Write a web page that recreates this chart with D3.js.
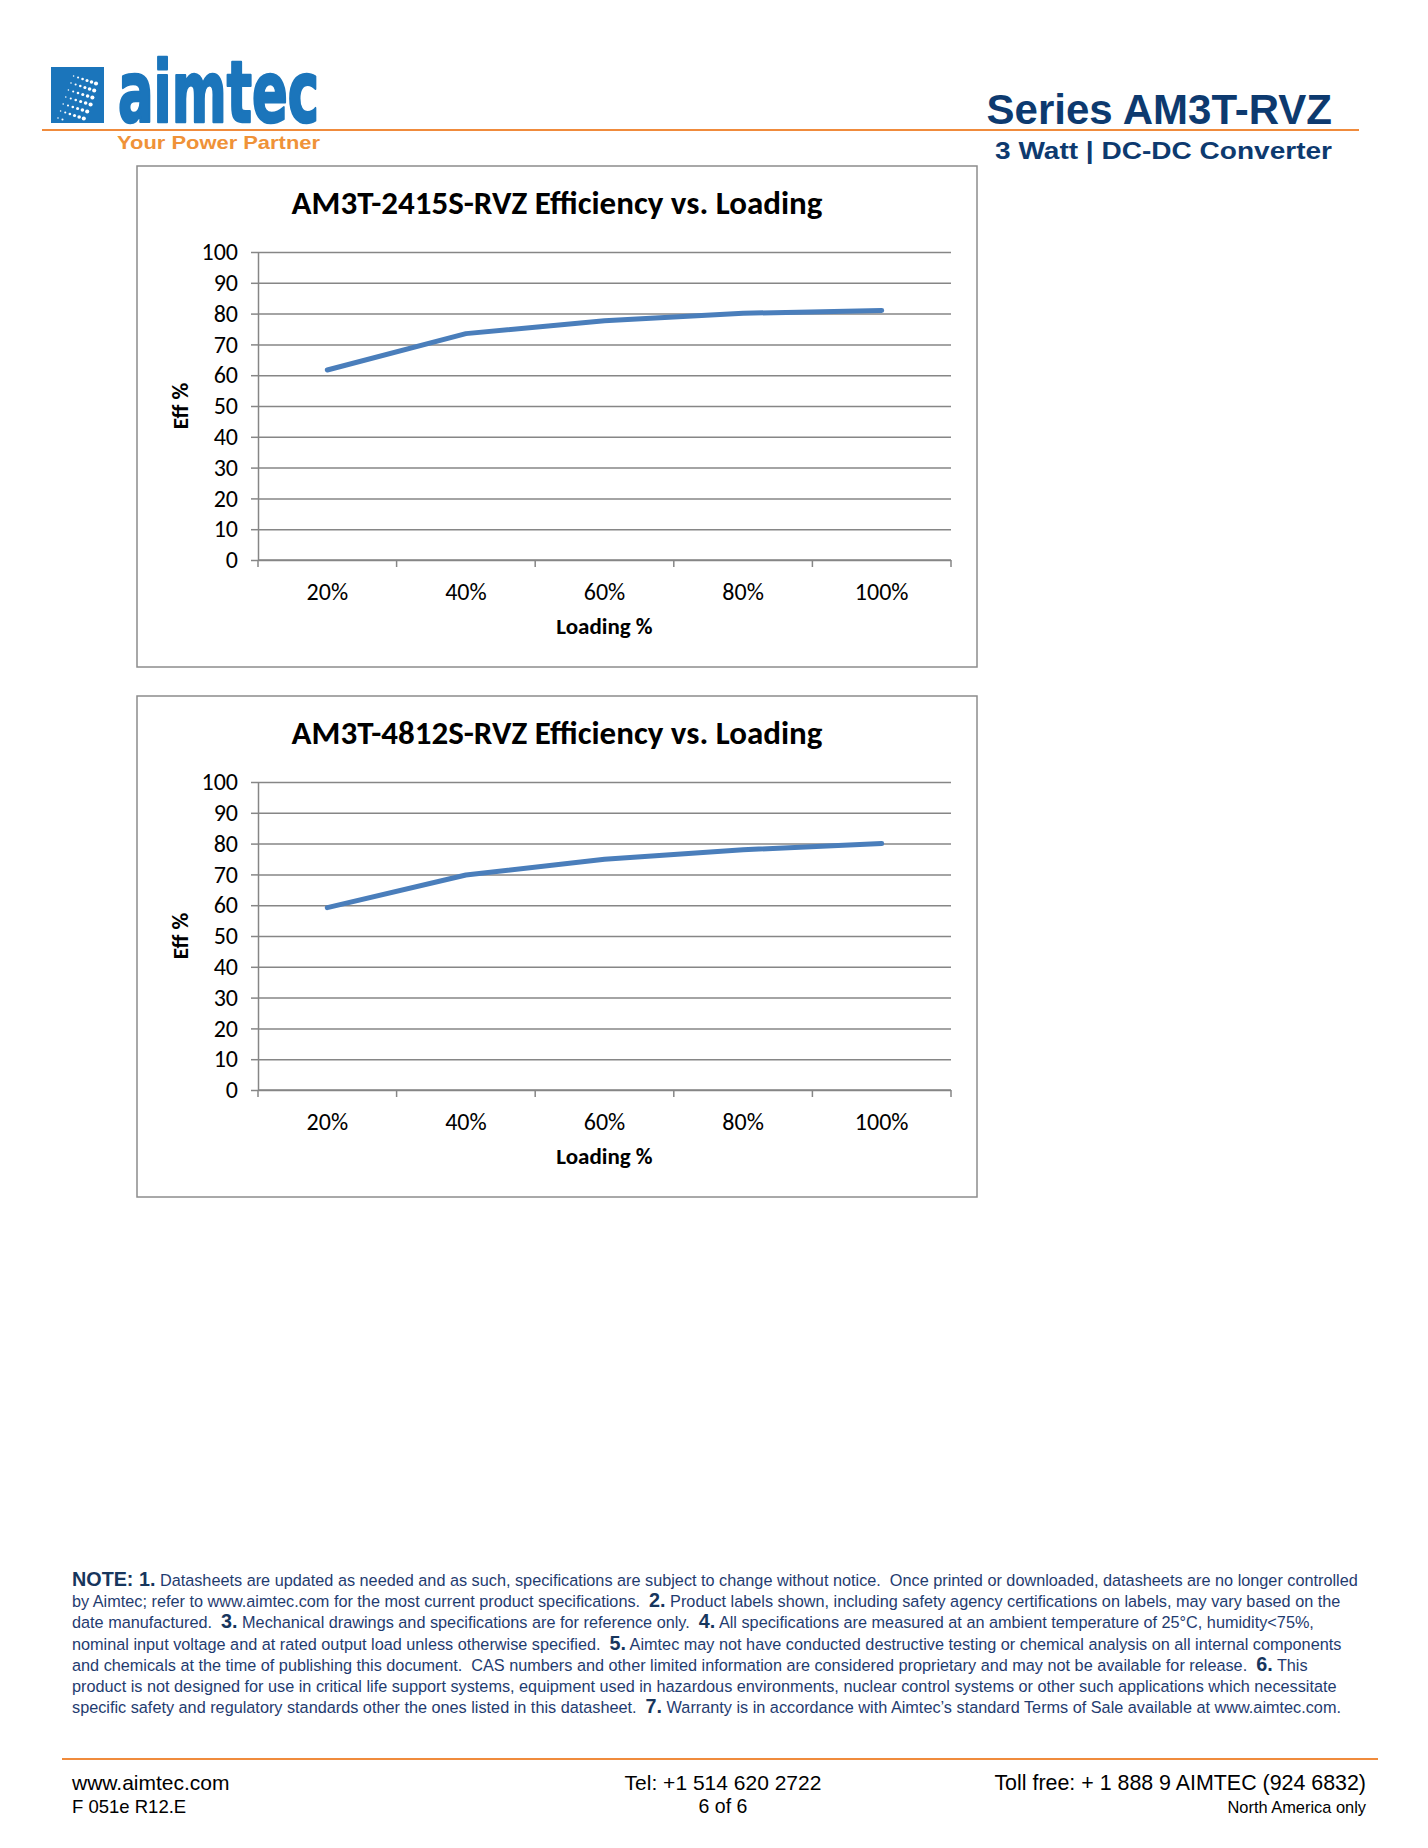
<!DOCTYPE html>
<html>
<head>
<meta charset="utf-8">
<script src="https://cdn.jsdelivr.net/npm/d3@7"></script>
<style>
  body { margin: 0; background: #fff; }
  svg text { white-space: pre; }
</style>
</head>
<body>
<div id="page"></div>
<script>
// data
var loads = ['20%', '40%', '60%', '80%', '100%'];
var eff2415 = [61.7, 73.5, 77.7, 80.1, 81.0];
var eff4812 = [59.2, 69.8, 74.9, 78.0, 80.0];
var yTicks = [0, 10, 20, 30, 40, 50, 60, 70, 80, 90, 100];

var charts = [
  {title: 'AM3T-2415S-RVZ Efficiency vs. Loading', values: eff2415, top: 166},
  {title: 'AM3T-4812S-RVZ Efficiency vs. Loading', values: eff4812, top: 696}
];

var noteLines = [
  [['NOTE: 1.', 1], [' Datasheets are updated as needed and as such, specifications are subject to change without notice.  Once printed or downloaded, datasheets are no longer controlled', 0]],
  [['by Aimtec; refer to www.aimtec.com for the most current product specifications.  ', 0], ['2.', 1], [' Product labels shown, including safety agency certifications on labels, may vary based on the', 0]],
  [['date manufactured.  ', 0], ['3.', 1], [' Mechanical drawings and specifications are for reference only.  ', 0], ['4.', 1], [' All specifications are measured at an ambient temperature of 25°C, humidity<75%,', 0]],
  [['nominal input voltage and at rated output load unless otherwise specified.  ', 0], ['5.', 1], [' Aimtec may not have conducted destructive testing or chemical analysis on all internal components', 0]],
  [['and chemicals at the time of publishing this document.  CAS numbers and other limited information are considered proprietary and may not be available for release.  ', 0], ['6.', 1], [' This', 0]],
  [['product is not designed for use in critical life support systems, equipment used in hazardous environments, nuclear control systems or other such applications which necessitate', 0]],
  [['specific safety and regulatory standards other the ones listed in this datasheet.  ', 0], ['7.', 1], [' Warranty is in accordance with Aimtec\u2019s standard Terms of Sale available at www.aimtec.com.', 0]]
];

var W = 1428, H = 1848;
var navy = '#0d3a6f', orange = '#f08b3c', blue = '#1b75bb';
var chartFont = 'Carlito, Calibri, Lato, sans-serif';
var arial = 'Arial, "Liberation Sans", sans-serif';

var svg = d3.select('#page').append('svg')
    .attr('width', W)
    .attr('height', H);
svg.append('rect').attr('width', W).attr('height', H).attr('fill', '#fff');

// ---- header ----
var logo = svg.append('g');
logo.append('rect').attr('x', 51).attr('y', 67).attr('width', 53).attr('height', 56).attr('fill', blue);
// white dot streaks inside the square
for (var k = 0; k < 6; k++) {
  for (var j = 0; j < 7; j++) {
    var cx = 58 + k * 4 + j * 2.6,
        cy = 118 - j * 7 + k * 1.5;
    if (cy < 71 || cy > 120) continue;
    logo.append('circle')
        .attr('cx', cx + (6 - Math.abs(j - 3)) * 0.8 * (k / 5))
        .attr('cy', cy)
        .attr('r', 0.8 + k * 0.25)
        .attr('fill', '#fff');
  }
}
// word mark and tagline as one logo text block
var mark = logo.append('text');
mark.append('tspan')
    .attr('x', 118).attr('y', 122)
    .attr('textLength', 201).attr('lengthAdjust', 'spacingAndGlyphs')
    .style('font-family', '"Liberation Sans Narrow", "DejaVu Sans Condensed", Arial, sans-serif')
    .style('font-weight', 'bold')
    .style('font-size', '86px')
    .attr('fill', blue)
    .attr('stroke', blue)
    .attr('stroke-width', 2.5)
    .attr('stroke-linejoin', 'round')
    .text('aimtec');
mark.append('tspan')
    .attr('x', 117).attr('y', 149)
    .attr('textLength', 203).attr('lengthAdjust', 'spacingAndGlyphs')
    .style('font-family', arial).style('font-weight', 'bold').style('font-size', '19px')
    .attr('fill', '#ef9238')
    .attr('stroke', 'none')
    .text('Your Power Partner');

svg.append('line')
    .attr('x1', 42).attr('x2', 1359).attr('y1', 130).attr('y2', 130)
    .attr('stroke', orange).attr('stroke-width', 2);

svg.append('text')
    .attr('x', 1332).attr('y', 124)
    .attr('text-anchor', 'end')
    .style('font-family', arial).style('font-weight', 'bold').style('font-size', '42px')
    .attr('fill', navy)
    .text('Series AM3T-RVZ');
svg.append('text')
    .attr('x', 1332).attr('y', 159)
    .attr('text-anchor', 'end')
    .attr('textLength', 337).attr('lengthAdjust', 'spacingAndGlyphs')
    .style('font-family', arial).style('font-weight', 'bold').style('font-size', '24px')
    .attr('fill', navy)
    .text('3 Watt | DC-DC Converter');

// ---- charts ----
var box = {left: 137, width: 840, height: 501};
var plot = {left: 258, right: 951, top: 86, bottom: 394};

var x = d3.scaleBand().domain(loads).range([plot.left, plot.right]).paddingInner(0).paddingOuter(0);
var y = d3.scaleLinear().domain([0, 100]).range([plot.bottom, plot.top]);

charts.forEach(function(c) {
  var g = svg.append('g').attr('transform', 'translate(0,' + c.top + ')');

  g.append('rect')
      .attr('x', box.left).attr('y', 0)
      .attr('width', box.width).attr('height', box.height)
      .attr('fill', '#fff').attr('stroke', '#8c8c8c').attr('stroke-width', 1.5);

  g.append('text')
      .attr('x', box.left + box.width / 2).attr('y', 48)
      .attr('text-anchor', 'middle')
      .style('font-family', chartFont).style('font-weight', 'bold').style('font-size', '33px')
      .attr('fill', '#000')
      .text(c.title);

  // gridlines
  g.append('g')
      .attr('transform', 'translate(' + plot.left + ',0)')
      .call(d3.axisLeft(y).tickValues(yTicks).tickSize(-(plot.right - plot.left)).tickFormat(''))
      .call(function(a) {
        a.select('.domain').remove();
        a.selectAll('line').attr('stroke', '#868686').attr('stroke-width', 1.5);
      });

  // y axis
  g.append('g')
      .attr('transform', 'translate(' + plot.left + ',0)')
      .call(d3.axisLeft(y).tickValues(yTicks).tickSize(7).tickSizeOuter(0).tickPadding(13))
      .call(function(a) {
        a.select('.domain').attr('stroke', '#868686').attr('stroke-width', 1.5);
        a.selectAll('line').attr('stroke', '#868686').attr('stroke-width', 1.5);
        a.selectAll('text')
            .style('font-family', chartFont).style('font-size', '24px').attr('fill', '#000');
      });

  // x axis: line, ticks at category boundaries, labels at centers
  var xa = g.append('g').attr('transform', 'translate(0,' + plot.bottom + ')');
  xa.append('line')
      .attr('x1', plot.left).attr('x2', plot.right)
      .attr('stroke', '#868686').attr('stroke-width', 1.5);
  var edges = loads.map(function(d) { return x(d); }).concat([x(loads[loads.length - 1]) + x.bandwidth()]);
  xa.selectAll('.edge').data(edges).enter().append('line')
      .attr('class', 'edge')
      .attr('x1', function(d) { return d; }).attr('x2', function(d) { return d; })
      .attr('y1', 0).attr('y2', 7)
      .attr('stroke', '#868686').attr('stroke-width', 1.5);
  xa.selectAll('.lab').data(loads).enter().append('text')
      .attr('class', 'lab')
      .attr('x', function(d) { return x(d) + x.bandwidth() / 2; })
      .attr('y', 40)
      .attr('text-anchor', 'middle')
      .style('font-family', chartFont).style('font-size', '24px')
      .text(function(d) { return d; });

  // axis titles
  g.append('text')
      .attr('transform', 'translate(188,' + (plot.top + plot.bottom) / 2 + ') rotate(-90)')
      .attr('text-anchor', 'middle')
      .style('font-family', chartFont).style('font-weight', 'bold').style('font-size', '23px')
      .text('Eff %');
  g.append('text')
      .attr('x', (plot.left + plot.right) / 2).attr('y', 468)
      .attr('text-anchor', 'middle')
      .style('font-family', chartFont).style('font-weight', 'bold').style('font-size', '23px')
      .text('Loading %');

  // efficiency line
  var line = d3.line()
      .x(function(d, i) { return x(loads[i]) + x.bandwidth() / 2; })
      .y(function(d) { return y(d); });
  g.append('path')
      .datum(c.values)
      .attr('d', line)
      .attr('fill', 'none')
      .attr('stroke', '#4a7ebb')
      .attr('stroke-width', 5)
      .attr('stroke-linejoin', 'round')
      .attr('stroke-linecap', 'round');
});

// ---- notes ----
var notes = svg.append('g');
var bodySize = 14, boldSize = 17;
noteLines.forEach(function(segs, i) {
  var t = notes.append('text')
      .attr('class', 'note')
      .attr('x', 72).attr('y', 1586 + i * 21.2)
      .style('font-family', arial);
  segs.forEach(function(s) {
    t.append('tspan')
        .text(s[0])
        .style('font-weight', s[1] ? 'bold' : 'normal')
        .style('font-size', (s[1] ? boldSize : bodySize) + 'px')
        .attr('fill', s[1] ? '#17365d' : '#1f3c70');
  });
});
// scale note font so the first line spans like the original
var w1 = notes.select('text.note').node().getComputedTextLength();
var k1 = 1287 / w1;
notes.selectAll('tspan').style('font-size', function() {
  return (parseFloat(this.style.fontSize) * k1) + 'px';
});

// ---- footer ----
svg.append('line')
    .attr('x1', 62).attr('x2', 1378).attr('y1', 1759).attr('y2', 1759)
    .attr('stroke', orange).attr('stroke-width', 2);

var foot = [
  ['www.aimtec.com', 72, 1790, 'start', 21],
  ['F 051e R12.E', 72, 1813, 'start', 18.5],
  ['Tel: +1 514 620 2722', 723, 1790, 'middle', 21],
  ['6 of 6', 723, 1813, 'middle', 19.5],
  ['Toll free: + 1 888 9 AIMTEC (924 6832)', 1366, 1790, 'end', 21.4],
  ['North America only', 1366, 1813, 'end', 16.4]
];
svg.selectAll('.foot').data(foot).enter().append('text')
    .attr('class', 'foot')
    .attr('x', function(d) { return d[1]; })
    .attr('y', function(d) { return d[2]; })
    .attr('text-anchor', function(d) { return d[3]; })
    .style('font-family', arial)
    .style('font-size', function(d) { return d[4] + 'px'; })
    .attr('fill', '#000')
    .text(function(d) { return d[0]; });
</script>
</body>
</html>
